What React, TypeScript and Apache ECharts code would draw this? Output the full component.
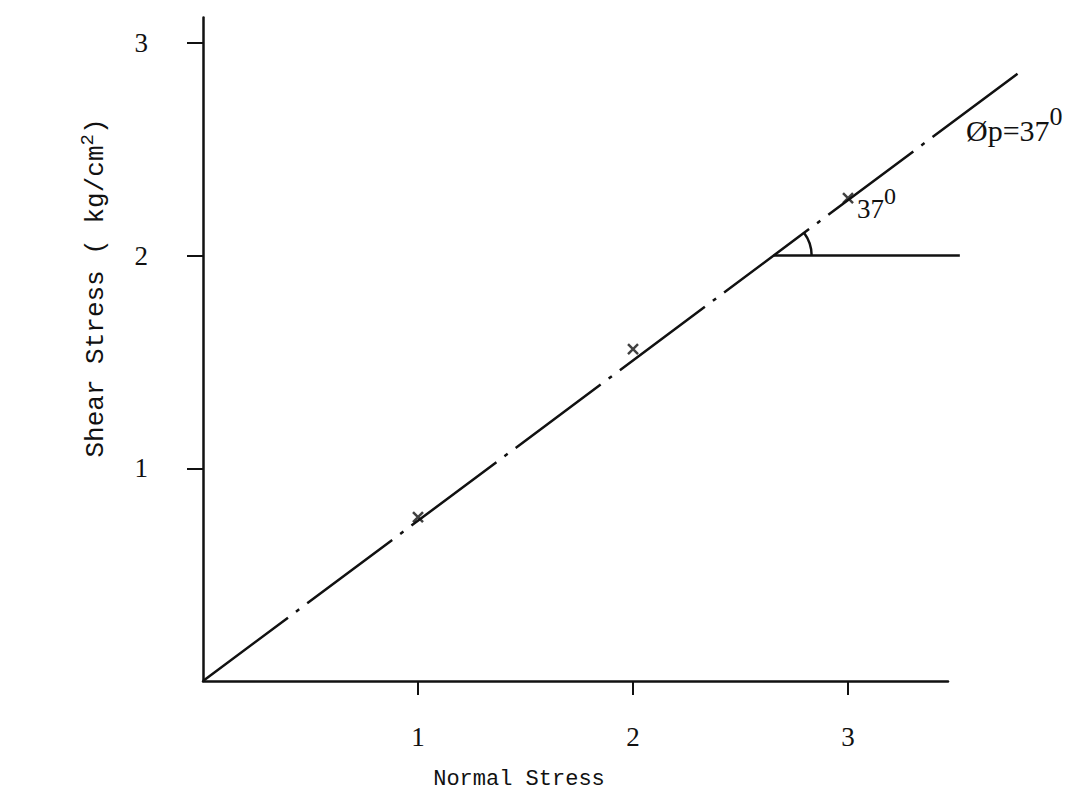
import React, { useEffect, useRef } from "react";
import * as echarts from "echarts";

// ---- data ----
const xTickValues = [1, 2, 3];
const yTickValues = [1, 2, 3];
const sampleNormal = [1, 2, 3];
const sampleShear = [0.77, 1.56, 2.27];
const envelopeNormal = [0, 3.8];
const envelopeShear = [0, 2.864];
const baseNormal = [2.654, 3.52];
const baseShear = [2.0, 2.0];
const frictionAngleDeg = 37;

const INK = "#111";
const SERIF = "'Liberation Serif', 'DejaVu Serif', serif";
const MONO = "'Liberation Mono', 'DejaVu Sans Mono', monospace";

export default function App() {
  const ref = useRef<HTMLDivElement>(null);
  useEffect(() => {
    if (!ref.current) return;
    const chart = echarts.init(ref.current, null, { renderer: "svg" });
    const angRad = (frictionAngleDeg * Math.PI) / 180;

    const polyRender = (dash: number[] | null) => (params: any, api: any) => {
      if (params.dataIndex !== 0) return null;
      const xs = params.context.xs as number[];
      const ys = params.context.ys as number[];
      const pts = xs.map((x, i) => api.coord([x, ys[i]]));
      return {
        type: "polyline",
        shape: { points: pts },
        style: { stroke: INK, lineWidth: 2.5, fill: "none", lineDash: dash || undefined },
      };
    };

    chart.setOption({
      animation: false,
      backgroundColor: "#fff",
      grid: { left: 203, right: 132, top: 17.4, bottom: 128 },
      xAxis: {
        type: "value",
        min: 0,
        max: 3.465,
        splitLine: { show: false },
        axisLine: { lineStyle: { color: INK, width: 2.5 } },
        axisTick: {
          customValues: xTickValues,
          length: 14,
          lineStyle: { color: INK, width: 2 },
        },
        axisLabel: {
          customValues: xTickValues,
          margin: 42,
          color: INK,
          fontFamily: SERIF,
          fontSize: 27,
        },
      },
      yAxis: {
        type: "value",
        min: 0,
        max: 3.12,
        splitLine: { show: false },
        axisLine: { lineStyle: { color: INK, width: 2.5 } },
        axisTick: {
          customValues: yTickValues,
          length: 16,
          lineStyle: { color: INK, width: 2 },
        },
        axisLabel: {
          customValues: yTickValues,
          margin: 55,
          color: INK,
          fontFamily: SERIF,
          fontSize: 27,
        },
      },
      series: [
        {
          type: "custom",
          clip: false,
          data: envelopeNormal.map((x, i) => [x, envelopeShear[i]]),
          renderItem: (params: any, api: any) => {
            if (params.dataIndex !== 0) return null;
            const pts = envelopeNormal.map((x, i) => api.coord([x, envelopeShear[i]]));
            return {
              type: "polyline",
              shape: { points: pts },
              style: { stroke: INK, lineWidth: 2.5, fill: "none", lineDash: [106, 10, 4, 10] },
            };
          },
        },
        {
          type: "custom",
          clip: false,
          data: baseNormal.map((x, i) => [x, baseShear[i]]),
          renderItem: (params: any, api: any) => {
            if (params.dataIndex !== 0) return null;
            const pts = baseNormal.map((x, i) => api.coord([x, baseShear[i]]));
            return {
              type: "polyline",
              shape: { points: pts },
              style: { stroke: INK, lineWidth: 2.5, fill: "none" },
            };
          },
        },
        {
          type: "scatter",
          data: sampleNormal.map((x, i) => [x, sampleShear[i]]),
          symbol: "path://M0 0L10 10M10 0L0 10",
          symbolSize: 10,
          itemStyle: { color: "transparent", borderColor: INK, borderWidth: 2.5 },
        },
        {
          type: "custom",
          clip: false,
          data: [[baseNormal[0], baseShear[0]]],
          renderItem: (params: any, api: any) => {
            const c = api.coord([api.value(0), api.value(1)]);
            return {
              type: "arc",
              shape: { cx: c[0], cy: c[1], r: 38, startAngle: -angRad, endAngle: 0, clockwise: true },
              style: { stroke: INK, lineWidth: 2.5, fill: "none" },
            };
          },
        },
      ],
      graphic: [
        {
          type: "text",
          x: 96,
          y: 288,
          rotation: Math.PI / 2,
          style: {
            text: "{a|Shear Stress ( kg/cm}{s|2}{a|)}",
            align: "center",
            verticalAlign: "middle",
            fill: INK,
            rich: {
              a: { fontFamily: MONO, fontSize: 26, fill: INK, lineHeight: 36 },
              s: { fontFamily: MONO, fontSize: 19, fill: INK, verticalAlign: "top", lineHeight: 36 },
            },
          },
        },
        {
          type: "text",
          x: 519,
          y: 779,
          style: {
            text: "Normal Stress",
            align: "center",
            verticalAlign: "middle",
            fill: INK,
            fontFamily: MONO,
            fontSize: 22,
          },
        },
        {
          type: "text",
          x: 857,
          y: 203,
          style: {
            text: "{a|37}{s|0}",
            align: "left",
            verticalAlign: "middle",
            fill: INK,
            rich: {
              a: { fontFamily: SERIF, fontSize: 27, fill: INK, lineHeight: 38, verticalAlign: "bottom" },
              s: { fontFamily: SERIF, fontSize: 24, fill: INK, verticalAlign: "top", lineHeight: 38 },
            },
          },
        },
        {
          type: "text",
          x: 966,
          y: 124,
          style: {
            text: "{a|Øp=37}{s|0}",
            align: "left",
            verticalAlign: "middle",
            fill: INK,
            rich: {
              a: { fontFamily: SERIF, fontSize: 30, fill: INK, lineHeight: 42, verticalAlign: "bottom" },
              s: { fontFamily: SERIF, fontSize: 26, fill: INK, verticalAlign: "top", lineHeight: 42 },
            },
          },
        },
      ],
    });
    return () => chart.dispose();
  }, []);
  return (
    <div
      ref={ref}
      style={{ position: "fixed", left: 0, top: 0, width: 1080, height: 809, background: "#fff" }}
    />
  );
}
